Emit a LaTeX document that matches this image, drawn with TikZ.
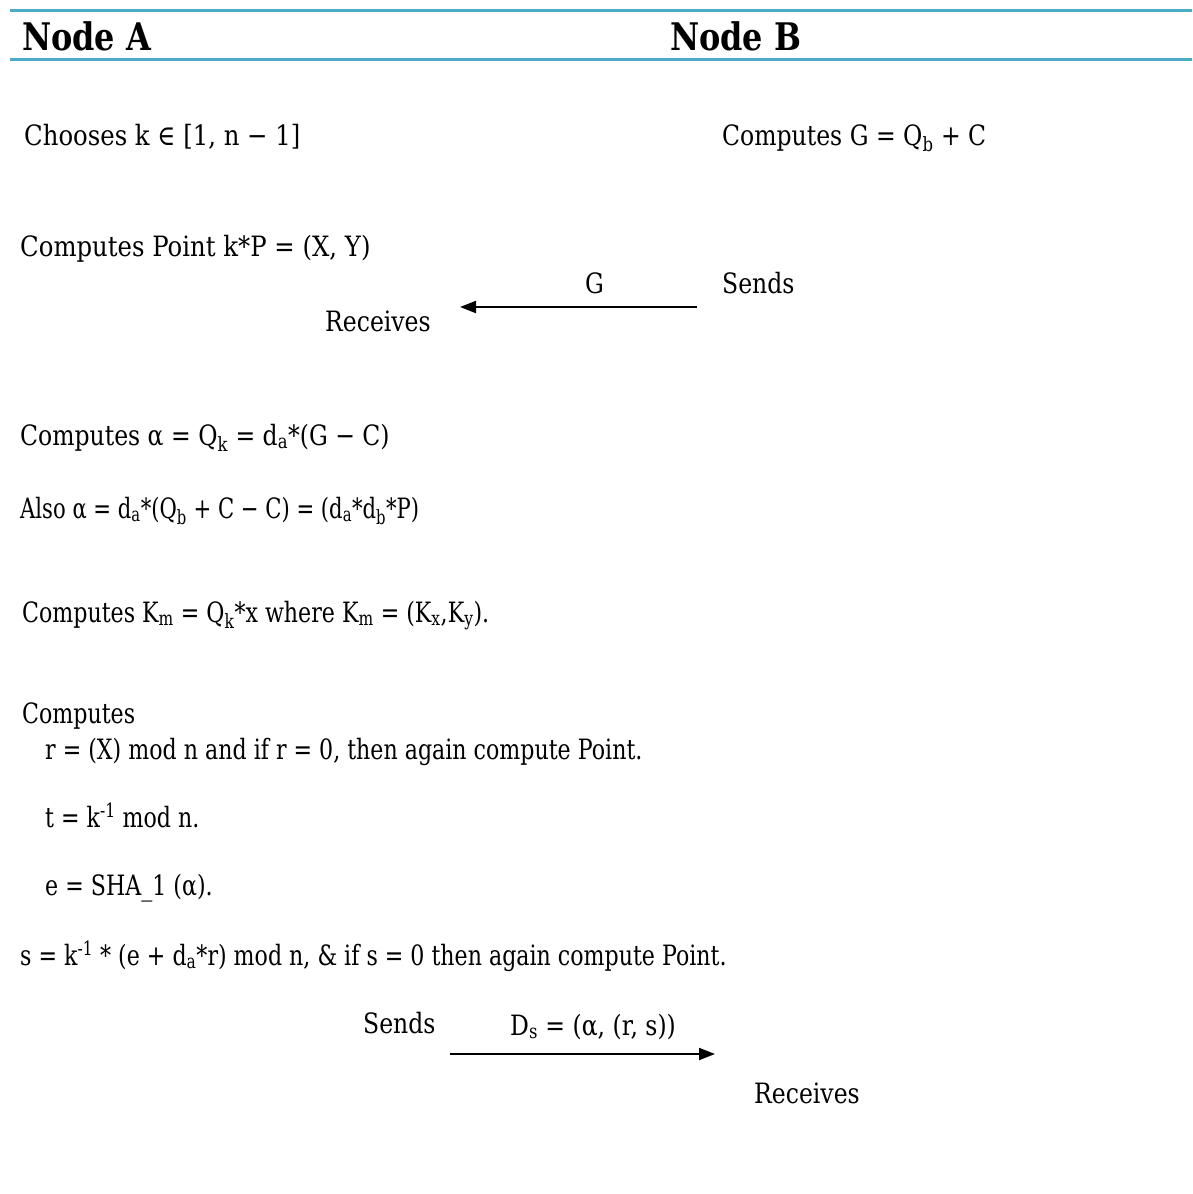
\documentclass[tikz,border=0pt]{standalone}
\usepackage{fontspec}
\setmainfont{DejaVu Serif}[FakeStretch=0.84]
\newfontfamily\wideserif{DejaVu Serif}[FakeStretch=0.87]
\newfontfamily\narrowserif{DejaVu Serif}[FakeStretch=0.79]
\newfontfamily\tightserif{DejaVu Serif}[FakeStretch=0.755]
\usetikzlibrary{arrows.meta}

\definecolor{rulecolor}{HTML}{4BACC6}
\newcommand{\lo}[1]{\textsubscript{#1}}
\newcommand{\hi}[1]{\textsuperscript{#1}}

\begin{document}
\begin{tikzpicture}[x=1pt, y=-1pt,
  headtext/.style={anchor=base west, inner sep=0pt, font=\fontsize{38}{44}\selectfont\bfseries},
  steptext/.style={anchor=base west, inner sep=0pt, font=\fontsize{28}{32}\selectfont},
  widetext/.style={steptext, font=\fontsize{28}{32}\wideserif},
  narrowtext/.style={steptext, font=\fontsize{28}{32}\narrowserif},
  tighttext/.style={steptext, font=\fontsize{28}{32}\tightserif},
  rule/.style={draw=rulecolor, line width=3pt},
  msg/.style={draw=black, line width=2pt, -{Triangle[length=16pt,width=12pt]}},
]
\useasboundingbox (0,0) rectangle (1192,1194);

% header rows
\draw[rule] (10,10) -- (1192,10);
\draw[rule] (10,59) -- (1192,59);
\node[headtext] (nodeA) at (22,50)  {Node A};
\node[headtext] (nodeB) at (670,50) {Node B};

% setup
\node[widetext] (choose)   at (24,145)  {Chooses k ∈ [1, n − 1]};
\node[steptext] (computeG) at (722,145) {Computes G = Q\lo{b} + C};
\node[widetext] (point)    at (20,256)  {Computes Point k*P = (X, Y)};

% first message: G from B to A
\node[steptext] (sendB) at (722,293) {Sends};
\node[steptext] (msgG)  at (585,293) {G};
\node[steptext] (recvA) at (325,331) {Receives};
\coordinate (gstart) at (697,307);
\coordinate (gend)   at (460,307);
\draw[msg] (gstart) -- (gend);

% A's computations
\node[steptext]   (alpha) at (20,445) {Computes α = Q\lo{k} = d\lo{a}*(G − C)};
\node[tighttext]  (also)  at (20,518) {Also α = d\lo{a}*(Q\lo{b} + C − C) = (d\lo{a}*d\lo{b}*P)};
\node[narrowtext] (km)    at (22,622) {Computes K\lo{m} = Q\lo{k}*x where K\lo{m} = (K\lo{x},K\lo{y}).};
\node[narrowtext] (comp)  at (22,723) {Computes};
\node[narrowtext] (rval)  at (45,759) {r = (X) mod n and if r = 0, then again compute Point.};
\node[narrowtext] (tval)  at (45,827) {t = k\hi{-1} mod n.};
\node[narrowtext] (eval)  at (45,895) {e = SHA\_1 (α).};
\node[narrowtext] (sval)  at (20,965) {s = k\hi{-1} * (e + d\lo{a}*r) mod n, \& if s = 0 then again compute Point.};

% second message: signature from A to B
\node[steptext] (sendA) at (363,1033) {Sends};
\node[steptext] (msgD)  at (510,1035) {D\lo{s} = (α, (r, s))};
\node[steptext] (recvB) at (754,1103) {Receives};
\coordinate (dstart) at (450,1054);
\coordinate (dend)   at (715,1054);
\draw[msg] (dstart) -- (dend);

\end{tikzpicture}
\end{document}
